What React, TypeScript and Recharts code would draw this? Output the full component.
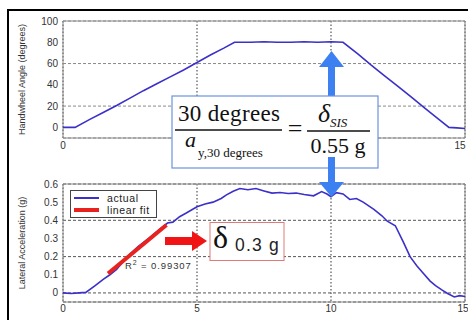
import {
  LineChart,
  Line,
  XAxis,
  YAxis,
  CartesianGrid,
  ReferenceArea,
  Legend,
} from "recharts";

// handwheel angle (top panel)
const ANGLE_T = [
  0, 0.45, 1, 1.5, 2, 2.5, 3, 3.5, 4, 4.5, 5, 5.5, 6, 6.4, 7, 7.5, 8, 8.5, 9,
  9.5, 10, 10.45, 11, 11.5, 12, 12.5, 13, 13.5, 14, 14.4, 14.7, 15,
];
const ANGLE_DEG = [
  0, 0, 7.5, 14, 20.5, 27.5, 34.5, 41, 47.5, 54, 61, 68, 74.5, 80, 80, 80.5,
  80, 80, 80.5, 80, 80.5, 80, 69, 58.5, 48.5, 38.5, 28.5, 18, 8, 0, -0.5, -1,
];

// lateral acceleration (bottom panel)
const ACCEL_T = [
  0, 0.3, 0.6, 0.85, 1.2, 1.5, 1.75, 2, 2.4, 2.8, 3.2, 3.6, 3.9, 4.1, 4.35,
  4.6, 5, 5.3, 5.6, 5.9, 6.1, 6.35, 6.6, 6.9, 7.2, 7.5, 7.8, 8.1, 8.4, 8.7, 9,
  9.35, 9.65, 9.85, 10, 10.2, 10.45, 10.7, 10.95, 11.2, 11.6, 11.9, 12.1, 12.4,
  12.7, 12.95, 13.2, 13.45, 13.7, 13.9, 14.15, 14.35, 14.6, 14.8, 15,
];
const ACCEL_G = [
  0, -0.003, 0, 0.003, 0.04, 0.075, 0.1, 0.13, 0.2, 0.255, 0.3, 0.35, 0.385,
  0.39, 0.42, 0.44, 0.475, 0.49, 0.5, 0.52, 0.54, 0.56, 0.575, 0.568, 0.575,
  0.562, 0.55, 0.553, 0.548, 0.55, 0.542, 0.535, 0.558, 0.545, 0.53, 0.552,
  0.545, 0.515, 0.52, 0.5, 0.46, 0.425, 0.395, 0.37, 0.28, 0.2, 0.15, 0.107,
  0.065, 0.04, 0.015, -0.003, -0.022, -0.015, -0.02,
];

// linear fit endpoints
const FIT_T = [1.68, 3.86];
const FIT_G = [0.107, 0.374];

const TIME_TICKS = [0, 5, 10, 15];
const ANGLE_TICKS = [0, 20, 40, 60, 80, 100];
const ACCEL_TICKS = [0, 0.1, 0.2, 0.3, 0.4, 0.5, 0.6];
// top panel labels at 5 and 10 sit under the formula box
const TOP_HIDDEN_TICKS = [5, 10];

const angleData = ANGLE_T.map((t, i) => ({ t, angle: ANGLE_DEG[i] }));
const accelData = ACCEL_T.map((t, i) => ({ t, accel: ACCEL_G[i] }));
const fitData = FIT_T.map((t, i) => ({ t, accel: FIT_G[i] }));

const SANS = "'Liberation Sans', Arial, sans-serif";
const SERIF = "'Liberation Serif', 'Times New Roman', serif";
const LINE_BLUE = "#3b30c8";
const FIT_RED = "#e8231f";
const tickStyle = { fontSize: 10, fill: "#333", fontFamily: SANS };

interface TickProps {
  x?: number;
  y?: number;
  payload: { value: number };
}

const TopTimeTick = (props: TickProps) => {
  const { x = 0, y = 0, payload } = props;
  if (TOP_HIDDEN_TICKS.includes(payload.value)) return <g />;
  return (
    <text x={x} y={y} dy="0.71em" textAnchor="middle" {...tickStyle}>
      {payload.value}
    </text>
  );
};

interface LegendEntry {
  value: string;
  color?: string;
  payload?: { strokeWidth?: number };
}

const LegendBox = (props: { payload?: LegendEntry[] }) => {
  const { payload = [] } = props;
  return (
    <div
      style={{
        border: "1px solid #444",
        background: "#fff",
        padding: "1px 6px 1px 3px",
        fontFamily: SANS,
        fontSize: 10.5,
        letterSpacing: 0.6,
        color: "#222",
        lineHeight: "12px",
      }}
    >
      {payload.map((entry) => (
        <div key={entry.value} style={{ display: "flex", alignItems: "center" }}>
          <span
            style={{
              display: "inline-block",
              width: 25,
              height: entry.payload?.strokeWidth ?? 1.5,
              background: entry.color,
              marginRight: 8,
            }}
          />
          {entry.value}
        </div>
      ))}
    </div>
  );
};

function Annotations() {
  return (
    <svg
      width={468}
      height={320}
      style={{ position: "absolute", left: 0, top: 0, pointerEvents: "none" }}
    >
      {/* up arrow */}
      <rect x={328} y={64} width={7} height={33} fill="#3d80f2" />
      <polygon points="319,67 344,67 331.5,51" fill="#3d80f2" />

      {/* formula box */}
      <rect x={172} y={96} width={206} height={72} fill="#fff" stroke="#6d93dc" strokeWidth={1.2} />
      <g fontFamily={SERIF} fill="#111">
        <text x={229} y={121} fontSize={23} textAnchor="middle" textLength={102}>
          30 degrees
        </text>
        <line x1={175} x2={282} y1={130} y2={130} stroke="#111" strokeWidth={1.3} />
        <text x={185} y={147} fontSize={22} fontStyle="italic">
          a
        </text>
        <text x={198} y={157} fontSize={13}>
          y,30 degrees
        </text>
        <text x={295} y={137} fontSize={26} textAnchor="middle">
          =
        </text>
        <text x={318} y={122} fontSize={26} fontStyle="italic">
          δ
        </text>
        <text x={330} y={127} fontSize={13} fontStyle="italic">
          SIS
        </text>
        <line x1={307} x2={370} y1={131} y2={131} stroke="#111" strokeWidth={1.3} />
        <text x={338} y={153} fontSize={22} textAnchor="middle">
          0.55 g
        </text>
      </g>

      {/* down arrow */}
      <rect x={328} y={157} width={7} height={27} fill="#3d80f2" />
      <polygon points="319,182 344,182 331.5,197" fill="#3d80f2" />

      {/* red arrow + box */}
      <rect x={165} y={237} width={29} height={8} fill="#f01414" />
      <polygon points="192,231 192,251 207,241" fill="#f01414" />
      <rect x={210} y={222.5} width={74} height={38} fill="#fff" stroke="#e07b7b" strokeWidth={1} />
      <text x={213} y={248} fontSize={32} fontFamily={SERIF} fill="#111">
        δ
      </text>
      <text x={235} y={251} fontSize={17.5} letterSpacing={1.2} fontFamily={SANS} fill="#222">
        0.3 g
      </text>

      {/* R squared */}
      <text x={125} y={269} fontSize={9.5} letterSpacing={0.9} fontFamily={SANS} fill="#333">
        R<tspan dy={-4} fontSize={7}>2</tspan>
        <tspan dy={4}> = 0.99307</tspan>
      </text>
    </svg>
  );
}

function App() {
  return (
    <div
      style={{
        position: "absolute",
        left: 0,
        top: 0,
        width: 468,
        height: 320,
        background: "#fff",
        overflow: "hidden",
      }}
    >
      <div
        style={{
          position: "absolute",
          left: 7,
          top: 9,
          width: 470,
          height: 320,
          borderTop: "2px solid #000",
          borderLeft: "2px solid #000",
        }}
      />

      <div style={{ position: "absolute", left: 0, top: 0 }}>
        <LineChart
          width={468}
          height={160}
          data={angleData}
          margin={{ top: 21, right: 3, bottom: 0, left: 8 }}
        >
          <CartesianGrid horizontal={false} stroke="#333" strokeDasharray="1.5 2" />
          <CartesianGrid vertical={false} stroke="#8a8a8a" strokeDasharray="3 2" />
          <XAxis
            type="number"
            dataKey="t"
            domain={[0, 15]}
            ticks={TIME_TICKS}
            axisLine={false}
            tickLine={false}
            tickSize={2}
            tickMargin={2}
            height={22}
            tick={TopTimeTick}
          />
          <YAxis
            domain={[-10, 100]}
            ticks={ANGLE_TICKS}
            axisLine={false}
            tickLine={false}
            tickSize={2}
            tickMargin={3}
            width={55}
            tick={tickStyle}
            label={{
              value: "Handwheel Angle (degrees)",
              angle: -90,
              position: "insideLeft",
              offset: 14,
              style: { textAnchor: "middle", fontSize: 9, fill: "#333", fontFamily: SANS },
            }}
          />
          <ReferenceArea x1={0} x2={15} y1={-10} y2={100} fill="none" stroke="#8a8a8a" />
          <Line
            type="linear"
            dataKey="angle"
            stroke={LINE_BLUE}
            strokeWidth={1.6}
            dot={false}
            isAnimationActive={false}
          />
        </LineChart>
      </div>

      <div style={{ position: "absolute", left: 0, top: 160 }}>
        <LineChart
          width={468}
          height={160}
          data={accelData}
          margin={{ top: 24, right: 3, bottom: 0, left: 8 }}
        >
          <CartesianGrid horizontal={false} stroke="#333" strokeDasharray="1.5 2" />
          <CartesianGrid vertical={false} stroke="#555" strokeDasharray="3 2" />
          <XAxis
            type="number"
            dataKey="t"
            domain={[0, 15]}
            ticks={TIME_TICKS}
            axisLine={false}
            tickLine={false}
            tickSize={1}
            tickMargin={2}
            height={18}
            tick={tickStyle}
          />
          <YAxis
            domain={[-0.05, 0.6]}
            ticks={ACCEL_TICKS}
            tickFormatter={(v: number) => (v === 0 ? "0" : v.toFixed(1))}
            axisLine={false}
            tickLine={false}
            tickSize={2}
            tickMargin={3}
            width={55}
            tick={tickStyle}
            label={{
              value: "Lateral Acceleration (g)",
              angle: -90,
              position: "insideLeft",
              offset: 14,
              style: { textAnchor: "middle", fontSize: 9, fill: "#333", fontFamily: SANS },
            }}
          />
          <ReferenceArea x1={0} x2={15} y1={-0.05} y2={0.6} fill="none" stroke="#8a8a8a" />
          <Legend
            layout="vertical"
            align="center"
            verticalAlign="middle"
            content={<LegendBox />}
            wrapperStyle={{ left: 70, top: 30, width: "auto", height: "auto" }}
          />
          <Line
            name="actual"
            type="linear"
            dataKey="accel"
            stroke={LINE_BLUE}
            strokeWidth={1.6}
            dot={false}
            isAnimationActive={false}
          />
          <Line
            name="linear fit"
            type="linear"
            data={fitData}
            dataKey="accel"
            stroke={FIT_RED}
            strokeWidth={4}
            dot={false}
            isAnimationActive={false}
          />
        </LineChart>
      </div>

      <Annotations />
    </div>
  );
}

export default App;
